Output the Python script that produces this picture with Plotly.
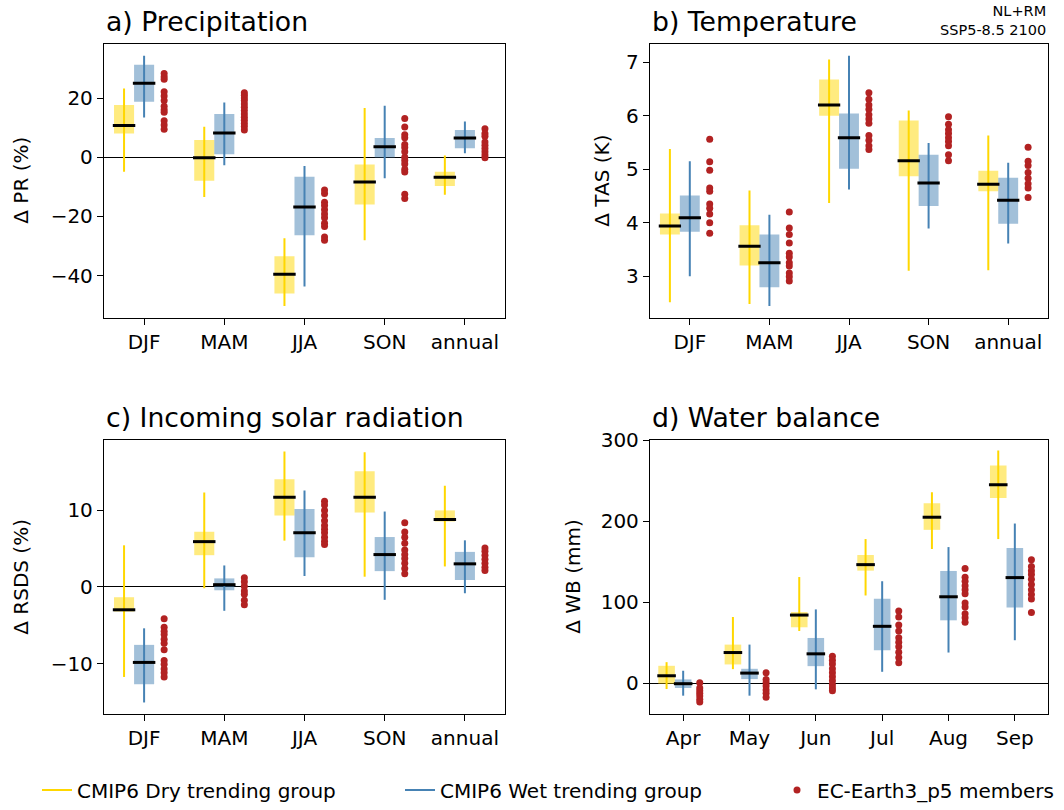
import plotly.graph_objects as go

# ---------------- data ----------------
seasons = ["DJF", "MAM", "JJA", "SON", "annual"]
months = ["Apr", "May", "Jun", "Jul", "Aug", "Sep"]

# panel a: precipitation (%)
pr_dry_med = [10.7, -0.2, -39.6, -8.4, -6.8]
pr_dry_lo = [8.0, -8.0, -46.1, -16.0, -9.7]
pr_dry_hi = [17.6, 5.8, -33.5, -2.5, -4.9]
pr_dry_min = [-4.9, -13.5, -50.3, -28.1, -12.7]
pr_dry_max = [23.2, 10.3, -27.4, 16.6, 0.6]
pr_wet_med = [25.0, 8.2, -16.8, 3.5, 6.5]
pr_wet_lo = [18.7, 1.0, -26.4, -0.1, 3.0]
pr_wet_hi = [31.2, 14.6, -6.6, 6.5, 9.2]
pr_wet_min = [13.4, -2.7, -43.7, -7.1, 1.3]
pr_wet_max = [34.3, 18.5, -3.0, 17.4, 12.1]
pr_ec = [
    [28.3, 27.2, 26.3, 22.1, 20.7, 19.2, 17.2, 16.0, 15.2, 12.3, 10.9, 9.4],
    [21.8, 20.9, 20.0, 19.2, 18.0, 16.9, 15.8, 14.6, 13.5, 12.5, 11.4, 10.4, 9.2],
    [-11.1, -12.3, -15.2, -16.3, -17.8, -19.2, -20.5, -22.3, -23.4, -27.0, -28.1],
    [13.1, 10.2, 7.6, 6.6, 4.3, 3.3, 1.8, 0.0, -1.1, -2.3, -4.1, -5.0, -12.5, -14.0],
    [9.6, 8.0, 7.1, 5.1, 4.0, 2.9, 1.8, 0.7, -0.2],
]

# panel b: temperature (K)
tas_dry_med = [3.94, 3.56, 6.20, 5.16, 4.72]
tas_dry_lo = [3.78, 3.20, 6.00, 4.87, 4.59]
tas_dry_hi = [4.17, 3.95, 6.68, 5.91, 4.97]
tas_dry_min = [2.51, 2.48, 4.37, 3.10, 3.11]
tas_dry_max = [5.38, 4.60, 7.05, 6.10, 5.63]
tas_wet_med = [4.09, 3.25, 5.59, 4.74, 4.42]
tas_wet_lo = [3.83, 2.79, 5.01, 4.31, 3.98]
tas_wet_hi = [4.51, 3.78, 6.04, 5.27, 4.84]
tas_wet_min = [3.00, 2.44, 4.62, 3.89, 3.61]
tas_wet_max = [5.15, 4.15, 7.12, 5.49, 5.12]
tas_ec = [
    [5.56, 5.14, 4.98, 4.65, 4.59, 4.35, 4.27, 4.16, 4.00, 3.80],
    [4.20, 3.90, 3.78, 3.62, 3.43, 3.36, 3.25, 3.19, 3.06, 2.99, 2.91],
    [6.43, 6.31, 6.20, 6.12, 6.02, 5.94, 5.86, 5.63, 5.54, 5.44, 5.37],
    [5.98, 5.84, 5.74, 5.67, 5.59, 5.52, 5.44, 5.27, 5.16],
    [5.41, 5.15, 5.07, 4.94, 4.83, 4.73, 4.65, 4.47],
]

# panel c: incoming solar radiation (%)
rs_dry_med = [-2.98, 5.92, 11.7, 11.7, 8.81]
rs_dry_lo = [-3.2, 4.15, 9.33, 9.72, 8.55]
rs_dry_hi = [-1.34, 7.21, 14.08, 15.1, 10.0]
rs_dry_min = [-11.75, -0.17, 6.05, 1.34, 2.68]
rs_dry_max = [5.44, 12.35, 17.7, 17.6, 13.2]
rs_wet_med = [-9.85, 0.3, 7.08, 4.23, 3.02]
rs_wet_lo = [-12.7, -0.43, 3.89, 2.07, 0.91]
rs_wet_hi = [-7.56, 1.12, 10.19, 6.52, 4.58]
rs_wet_min = [-15.08, -3.11, 1.43, -1.68, -0.82]
rs_wet_max = [-5.4, 2.81, 12.6, 9.85, 6.09]
rs_ec = [
    [-4.15, -5.27, -5.79, -6.22, -6.82, -7.34, -8.21, -9.59, -10.1, -10.7, -11.2, -11.75],
    [1.21, 0.69, 0.09, -0.52, -0.95, -1.73, -2.33],
    [11.2, 10.7, 10.0, 9.33, 8.64, 8.03, 7.52, 7.08, 6.48, 5.96, 5.53],
    [8.38, 7.17, 6.48, 5.70, 4.84, 4.23, 3.72, 3.11, 2.42, 1.73],
    [5.1, 4.67, 4.15, 3.63, 3.11, 2.59, 2.16],
]

# panel d: water balance (mm)
wb_dry_med = [9.0, 37.7, 84.0, 146.3, 204.9, 245.1]
wb_dry_lo = [-0.8, 23.0, 68.9, 138.9, 189.3, 228.7]
wb_dry_hi = [21.3, 47.5, 87.7, 158.2, 222.1, 268.9]
wb_dry_min = [-7.4, 17.2, 64.3, 108.2, 165.6, 177.9]
wb_dry_max = [25.8, 81.6, 131.0, 177.9, 235.7, 287.3]
wb_wet_med = [-0.8, 12.3, 36.1, 70.1, 106.6, 130.3]
wb_wet_lo = [-6.1, 4.9, 20.9, 40.6, 77.5, 93.4]
wb_wet_hi = [4.5, 17.6, 55.7, 104.1, 138.5, 166.8]
wb_wet_min = [-15.6, -15.6, -7.8, 13.9, 37.7, 52.9]
wb_wet_max = [15.2, 47.5, 91.0, 125.8, 168.0, 197.1]
wb_ec = [
    [0.4, -6.1, -9.4, -12.7, -16.0, -20.1, -23.4],
    [12.7, 4.5, 0.4, -3.7, -8.6, -12.7, -17.6],
    [33.2, 28.3, 23.4, 17.6, 12.7, 7.8, 2.9, -2.0, -6.1, -9.4],
    [88.9, 81.6, 71.7, 64.3, 56.1, 50.4, 44.7, 38.1, 31.6, 25.0],
    [141.4, 130.7, 125.8, 120.1, 115.2, 110.2, 98.8, 93.9, 85.7, 80.7, 75.0],
    [152.5, 143.9, 138.9, 134.0, 128.3, 121.7, 115.2, 109.4, 103.7, 87.3],
]

panels = [
    dict(title="a) Precipitation", ylabel="Δ PR (%)", cats=seasons,
         dry=(pr_dry_med, pr_dry_lo, pr_dry_hi, pr_dry_min, pr_dry_max),
         wet=(pr_wet_med, pr_wet_lo, pr_wet_hi, pr_wet_min, pr_wet_max),
         ec=pr_ec, yrange=[-54.3, 38.4], yticks=[-40, -20, 0, 20]),
    dict(title="b) Temperature", ylabel="Δ TAS (K)", cats=seasons,
         dry=(tas_dry_med, tas_dry_lo, tas_dry_hi, tas_dry_min, tas_dry_max),
         wet=(tas_wet_med, tas_wet_lo, tas_wet_hi, tas_wet_min, tas_wet_max),
         ec=tas_ec, yrange=[2.22, 7.35], yticks=[3, 4, 5, 6, 7]),
    dict(title="c) Incoming solar radiation", ylabel="Δ RSDS (%)", cats=seasons,
         dry=(rs_dry_med, rs_dry_lo, rs_dry_hi, rs_dry_min, rs_dry_max),
         wet=(rs_wet_med, rs_wet_lo, rs_wet_hi, rs_wet_min, rs_wet_max),
         ec=rs_ec, yrange=[-16.57, 19.24], yticks=[-10, 0, 10]),
    dict(title="d) Water balance", ylabel="Δ WB (mm)", cats=months,
         dry=(wb_dry_med, wb_dry_lo, wb_dry_hi, wb_dry_min, wb_dry_max),
         wet=(wb_wet_med, wb_wet_lo, wb_wet_hi, wb_wet_min, wb_wet_max),
         ec=wb_ec, yrange=[-38.1, 300.8], yticks=[0, 100, 200, 300]),
]

legend_names = ["CMIP6 Dry trending group", "CMIP6 Wet trending group",
                "EC-Earth3_p5 members"]

# ---------------- style / layout ----------------
FW, FH = 1064, 810
FONT = "DejaVu Sans"
DRY_LINE = "#FFD700"
DRY_BOX = "rgba(255,215,0,0.5)"
WET_LINE = "#4682B4"
WET_BOX = "rgba(70,130,180,0.5)"
EC_COL = "#B22222"
BW = 0.25      # box width
OFF = 0.25     # group offset
MED_HALF = 0.14


def fx(px):
    return px / FW


def fy(py):
    return 1 - py / FH


xdoms = [[fx(104), fx(505)], [fx(650), fx(1048)]]
ydoms = [[fy(321), fy(44)], [fy(721), fy(444)]]
ytitle_x = [fx(21), fx(602), fx(21), fx(573)]
legend_x = [fx(37), fx(400), fx(777)]

fig = go.Figure()

for k, p in enumerate(panels):
    ax = "" if k == 0 else str(k + 1)
    xa, ya = "x" + ax, "y" + ax
    n = len(p["cats"])
    col, row = k % 2, k // 2
    for gi, (grp, off, lcol, bcol) in enumerate([
        (p["dry"], -OFF, DRY_LINE, DRY_BOX),
        (p["wet"], 0.0, WET_LINE, WET_BOX),
    ]):
        med, lo, hi, mn, mx = grp
        xs = [i + off for i in range(n)]
        fig.add_trace(go.Bar(
            x=xs, y=[h - l for h, l in zip(hi, lo)], base=lo, width=BW,
            marker=dict(color=bcol, line=dict(width=0)),
            xaxis=xa, yaxis=ya, showlegend=False, hoverinfo="skip"))
        wx, wy = [], []
        for x, a, b in zip(xs, mn, mx):
            wx += [x, x, None]
            wy += [a, b, None]
        fig.add_trace(go.Scatter(
            x=wx, y=wy, mode="lines", line=dict(color=lcol, width=2),
            xaxis=xa, yaxis=ya, name=legend_names[gi],
            legend="legend" if gi == 0 else "legend2",
            showlegend=(k == 0)))
        mx_, my_ = [], []
        for x, m in zip(xs, med):
            mx_ += [x - MED_HALF, x + MED_HALF, None]
            my_ += [m, m, None]
        fig.add_trace(go.Scatter(
            x=mx_, y=my_, mode="lines", line=dict(color="black", width=3),
            xaxis=xa, yaxis=ya, showlegend=False, hoverinfo="skip"))
    ex, ey = [], []
    for i, vals in enumerate(p["ec"]):
        ex += [i + OFF] * len(vals)
        ey += vals
    fig.add_trace(go.Scatter(
        x=ex, y=ey, mode="markers",
        marker=dict(color=EC_COL, size=7, line=dict(width=0)),
        xaxis=xa, yaxis=ya, name=legend_names[2], legend="legend3",
        showlegend=(k == 0)))

    axis_common = dict(showline=True, linecolor="black", linewidth=1.3,
                       mirror=True, ticks="outside", ticklen=6, tickwidth=1.3,
                       tickcolor="black", showgrid=False, automargin=False,
                       tickfont=dict(family=FONT, size=20, color="black"))
    fig.update_layout(**{
        "xaxis" + ax: dict(domain=xdoms[col], anchor=ya,
                           range=[-0.5, n - 0.5],
                           tickvals=list(range(n)), ticktext=p["cats"],
                           zeroline=False, **axis_common),
        "yaxis" + ax: dict(domain=ydoms[row], anchor=xa,
                           range=p["yrange"], tickvals=p["yticks"],
                           zeroline=True, zerolinecolor="black",
                           zerolinewidth=1.3, **axis_common),
    })
    # panel title
    fig.add_annotation(
        text=p["title"], xref="paper", yref="paper",
        x=xdoms[col][0], y=ydoms[row][1], xanchor="left", yanchor="bottom",
        yshift=5, showarrow=False,
        font=dict(family=FONT, size=26.7, color="black"))
    # y-axis label
    fig.add_annotation(
        text=p["ylabel"], xref="paper", yref="paper", textangle=-90,
        x=ytitle_x[k], y=sum(ydoms[row]) / 2, xanchor="center",
        yanchor="middle", showarrow=False,
        font=dict(family=FONT, size=20, color="black"))

fig.add_annotation(
    text="NL+RM<br>SSP5-8.5 2100", xref="paper", yref="paper",
    x=xdoms[1][1], y=ydoms[0][1], xanchor="right", yanchor="bottom",
    align="right", yshift=4, showarrow=False,
    font=dict(family=FONT, size=14.5, color="black"))

leg_common = dict(orientation="h", xanchor="left", y=fy(798),
                  yanchor="middle", bgcolor="rgba(0,0,0,0)",
                  font=dict(family=FONT, size=20, color="black"))
fig.update_layout(
    width=FW, height=FH, autosize=False,
    margin=dict(l=0, r=0, t=0, b=0),
    paper_bgcolor="white", plot_bgcolor="white",
    barmode="overlay",
    font=dict(family=FONT, size=20, color="black"),
    legend=dict(x=legend_x[0], **leg_common),
    legend2=dict(x=legend_x[1], **leg_common),
    legend3=dict(x=legend_x[2], **leg_common),
)

fig.write_html("out.html",
               config={"displayModeBar": False},
               post_script="document.body.style.margin='0';")
